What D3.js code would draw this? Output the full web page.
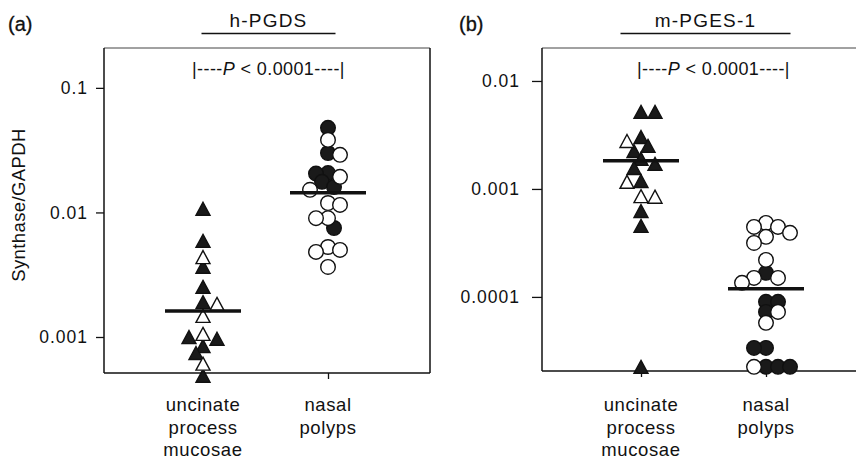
<!DOCTYPE html>
<html>
<head>
<meta charset="utf-8">
<script src="https://cdn.jsdelivr.net/npm/d3@7"></script>
<style>
  html, body { margin: 0; padding: 0; background: #fff; }
  svg { display: block; font-family: "Liberation Sans", Arial, Helvetica, sans-serif; }
</style>
</head>
<body>
<svg id="chart" width="856" height="461"></svg>
<script>
// ---- data ----
const categories = ["uncinate process mucosae", "nasal polyps"];
const categoryLines = [["uncinate", "process", "mucosae"], ["nasal", "polyps"]];

// h-PGDS / GAPDH, uncinate process mucosae (1 = closed symbol, 0 = open symbol)
const hpgdsUcmValues = [0.0105, 0.0058, 0.0043, 0.0036, 0.00248, 0.00187, 0.00181, 0.00145,
                        0.00104, 0.00098, 0.00095, 0.00083, 0.00073, 0.0006, 0.00048];
const hpgdsUcmClosed = [1, 1, 0, 1, 1, 1, 0, 0, 0, 1, 1, 1, 1, 0, 1];

// h-PGDS / GAPDH, nasal polyps
const hpgdsNpValues = [0.0478, 0.0382, 0.030, 0.029, 0.0207, 0.0205, 0.0193, 0.0176, 0.0160,
                       0.0152, 0.0119, 0.0115, 0.0090, 0.0090, 0.0075, 0.00528, 0.0050, 0.00482, 0.00365];
const hpgdsNpClosed = [1, 0, 1, 0, 1, 1, 0, 1, 1, 0, 0, 0, 0, 0, 1, 0, 0, 0, 0];

// m-PGES-1 / GAPDH, uncinate process mucosae
const mpgesUcmValues = [0.00506, 0.00506, 0.00296, 0.00272, 0.00245, 0.0022, 0.00186, 0.00167,
                        0.00153, 0.00116, 0.00114, 0.00084, 0.00083, 0.000612, 0.000445, 0.000022];
const mpgesUcmClosed = [1, 1, 1, 0, 1, 1, 1, 1, 1, 1, 0, 0, 0, 1, 1, 1];

// m-PGES-1 / GAPDH, nasal polyps
const mpgesNpValues = [0.000484, 0.000445, 0.000445, 0.000392, 0.00036, 0.000316, 0.00022, 0.000167,
                       0.00015, 0.00015, 0.000135, 0.00009, 0.00009, 0.0000726, 0.0000726, 0.0000575,
                       0.0000337, 0.0000337, 0.0000225, 0.0000225, 0.0000225, 0.0000225];
const mpgesNpClosed = [0, 0, 0, 0, 0, 0, 0, 1, 0, 0, 0, 1, 1, 1, 0, 0, 1, 1, 1, 1, 0, 1];

// group medians
const hpgdsMedians = [0.00162, 0.0144];
const mpgesMedians = [0.00182, 0.000119];

// y axes
const hpgdsTickValues = [0.001, 0.01, 0.1];
const hpgdsTickLabels = ["0.001", "0.01", "0.1"];
const hpgdsDomain = [0.000514, 0.209];
const mpgesTickValues = [0.0001, 0.001, 0.01];
const mpgesTickLabels = ["0.0001", "0.001", "0.01"];
const mpgesDomain = [0.0000206, 0.0202];

const yAxisTitle = "Synthase/GAPDH";
const pText = ["|----", "P", " < 0.0001----|"];

// ---- layout ----
const svg = d3.select("#chart");
const ink = "#111";

const panels = [
  { tag: "(a)", tagX: 8, title: "h-PGDS", lineHalf: 67,
    x0: 104, x1: 430, top: 48, bottom: 373, tickSize: 8, tickPad: 8,
    domain: hpgdsDomain, ticks: hpgdsTickValues, tickLabels: hpgdsTickLabels,
    groups: [[hpgdsUcmValues, hpgdsUcmClosed], [hpgdsNpValues, hpgdsNpClosed]],
    medians: hpgdsMedians, pShift: 3, titleShift: 3 },
  { tag: "(b)", tagX: 459, title: "m-PGES-1", lineHalf: 85,
    x0: 542, x1: 880, top: 48, bottom: 371, tickSize: 10, tickPad: 12,
    domain: mpgesDomain, ticks: mpgesTickValues, tickLabels: mpgesTickLabels,
    groups: [[mpgesUcmValues, mpgesUcmClosed], [mpgesNpValues, mpgesNpClosed]],
    medians: mpgesMedians, pShift: 10, titleShift: 2 }
];

// deterministic swarm: each point stays as close to its column as it can,
// alternating sides so the cloud stays balanced around the column
function swarm(vals, y, cx, minDist, step) {
  const order = d3.range(vals.length).sort((a, b) => d3.descending(vals[a], vals[b]) || a - b);
  const placed = [];
  const out = new Array(vals.length);
  let balance = 0;
  const free = (px, py) => placed.every(p => Math.hypot(p[0] - px, p[1] - py) >= minDist);
  for (const i of order) {
    const py = y(vals[i]);
    let px = cx;
    if (!free(cx, py)) {
      for (let k = 1; k < 30; k++) {
        const r = cx + k * step, l = cx - k * step;
        const okR = free(r, py), okL = free(l, py);
        if (okR && okL) { px = balance > 0 ? l : r; break; }
        if (okR) { px = r; break; }
        if (okL) { px = l; break; }
      }
    }
    balance += px - cx;
    placed.push([px, py]);
    out[i] = [px, py];
  }
  return out;
}

const triPath = "M0,-7.5L7,5.5L-7,5.5Z";

panels.forEach(p => {
  const g = svg.append("g");
  const y = d3.scaleLog().domain(p.domain).range([p.bottom, p.top]);
  const x = d3.scalePoint().domain(categories).range([p.x0 + 99, p.x0 + 224]);
  const midX = (x(categories[0]) + x(categories[1])) / 2;

  // panel tag and title
  g.append("text").attr("x", p.tagX).attr("y", 31)
    .attr("font-size", 20).attr("fill", ink).attr("stroke", ink).attr("stroke-width", 0.3).text(p.tag);
  g.append("text").attr("x", midX + p.titleShift).attr("y", 27)
    .attr("text-anchor", "middle").attr("font-size", 19).attr("letter-spacing", 1.2)
    .attr("fill", ink).text(p.title);
  g.append("line").attr("x1", midX + p.titleShift - p.lineHalf).attr("x2", midX + p.titleShift + p.lineHalf)
    .attr("y1", 33.5).attr("y2", 33.5).attr("stroke", ink).attr("stroke-width", 1.5);

  // frame
  g.append("line").attr("x1", p.x0).attr("x2", p.x1).attr("y1", p.top).attr("y2", p.top)
    .attr("stroke", "#444").attr("stroke-width", 1);
  g.append("line").attr("x1", p.x0).attr("x2", p.x1).attr("y1", p.bottom).attr("y2", p.bottom)
    .attr("stroke", ink).attr("stroke-width", 1.6);
  g.append("line").attr("x1", p.x0).attr("x2", p.x0).attr("y1", p.top).attr("y2", p.bottom)
    .attr("stroke", ink).attr("stroke-width", 1.5);
  g.append("line").attr("x1", p.x1).attr("x2", p.x1).attr("y1", p.top).attr("y2", p.bottom)
    .attr("stroke", ink).attr("stroke-width", 1.5);

  // y axis
  const yAxis = d3.axisLeft(y).tickValues(p.ticks)
    .tickFormat((d, i) => p.tickLabels[i]).tickSize(p.tickSize).tickPadding(p.tickPad);
  const ya = g.append("g").attr("transform", `translate(${p.x0},0)`).call(yAxis);
  ya.select(".domain").remove();
  ya.selectAll(".tick line").attr("stroke", ink).attr("stroke-width", 1.3);
  ya.selectAll(".tick text").attr("font-size", 17.5).attr("letter-spacing", 1)
    .attr("fill", ink).attr("font-family", null);

  // x axis ticks
  const xAxis = d3.axisBottom(x).tickSize(6).tickFormat("");
  const xa = g.append("g").attr("transform", `translate(0,${p.bottom})`).call(xAxis);
  xa.select(".domain").remove();
  xa.selectAll(".tick line").attr("stroke", ink).attr("stroke-width", 1.3);

  // category labels
  categories.forEach((c, ci) => {
    const t = g.append("text").attr("x", x(c)).attr("y", 411)
      .attr("text-anchor", "middle").attr("font-size", 18.5).attr("letter-spacing", 0.6).attr("fill", ink);
    categoryLines[ci].forEach((ln, li) => {
      t.append("tspan").attr("x", x(c)).attr("dy", li === 0 ? 0 : 22.5).text(ln);
    });
  });

  // P value bracket
  const pt = g.append("text").attr("x", midX + p.pShift).attr("y", 75)
    .attr("text-anchor", "middle").attr("font-size", 18).attr("letter-spacing", 0.4).attr("fill", ink);
  pt.append("tspan").text(pText[0]);
  pt.append("tspan").attr("font-style", "italic").text(pText[1]);
  pt.append("tspan").text(pText[2]);

  // points
  p.groups.forEach(([vals, closed], gi) => {
    const cx = x(categories[gi]);
    const isTri = gi === 0;
    const pos = isTri ? swarm(vals, y, cx, 9.5, 7) : swarm(vals, y, cx, 10, 6);
    const pts = vals.map((v, i) => ({ v, closed: closed[i], px: pos[i][0], py: pos[i][1] }));
    // closed symbols first, open ones over them
    const drawOrder = pts.filter(d => d.closed).concat(pts.filter(d => !d.closed));
    if (isTri) {
      g.append("g").selectAll("path").data(drawOrder).join("path")
        .attr("d", triPath)
        .attr("transform", d => `translate(${d.px},${d.py})`)
        .attr("fill", d => d.closed ? "#1a1a1a" : "#fff")
        .attr("stroke", ink).attr("stroke-width", 1.4).attr("stroke-linejoin", "miter");
    } else {
      g.append("g").selectAll("circle").data(drawOrder).join("circle")
        .attr("cx", d => d.px).attr("cy", d => d.py).attr("r", 7.3)
        .attr("fill", d => d.closed ? "#1a1a1a" : "#fff")
        .attr("stroke", ink).attr("stroke-width", 1.4);
    }
    // median bar
    g.append("line")
      .attr("x1", cx - 38).attr("x2", cx + 38)
      .attr("y1", y(p.medians[gi])).attr("y2", y(p.medians[gi]))
      .attr("stroke", ink).attr("stroke-width", 3.5);
  });
});

// shared y axis title
svg.append("text")
  .attr("transform", "translate(25,205) rotate(-90)")
  .attr("text-anchor", "middle").attr("font-size", 18.5).attr("letter-spacing", 0.4)
  .attr("fill", ink).text(yAxisTitle);
</script>
</body>
</html>
